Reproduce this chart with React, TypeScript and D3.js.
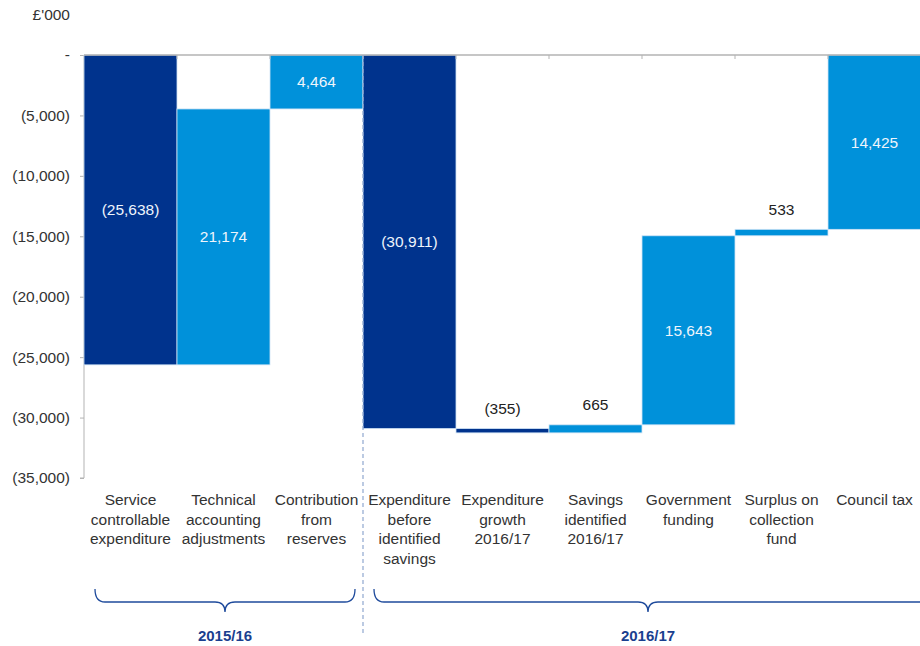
import React, { useEffect, useRef } from 'react';
import * as d3 from 'd3';

// Waterfall data (£'000)
const categories: string[][] = [
  ['Service', 'controllable', 'expenditure'],
  ['Technical', 'accounting', 'adjustments'],
  ['Contribution', 'from', 'reserves'],
  ['Expenditure', 'before', 'identified', 'savings'],
  ['Expenditure', 'growth', '2016/17'],
  ['Savings', 'identified', '2016/17'],
  ['Government', 'funding'],
  ['Surplus on', 'collection', 'fund'],
  ['Council tax'],
];
const values = [-25638, 21174, 4464, -30911, -355, 665, 15643, 533, 14425];
const yTicks = [0, -5000, -10000, -15000, -20000, -25000, -30000, -35000];
const periods = [
  { label: '2015/16', first: 0, last: 2 },
  { label: '2016/17', first: 3, last: 8 },
];

const DARK = '#00338D';
const LIGHT = '#0091DA';
const FONT = '"Liberation Sans", Arial, sans-serif';

const fmt = (v: number) => {
  if (v === 0) return '-';
  const s = d3.format(',')(Math.abs(v));
  return v < 0 ? `(${s})` : s;
};

const App: React.FC = () => {
  const svgRef = useRef<SVGSVGElement>(null);

  useEffect(() => {
    if (!svgRef.current) return;
    const width = 920;
    const height = 646;
    const svg = d3.select(svgRef.current);
    svg.selectAll('*').remove();
    svg.attr('width', width).attr('height', height);

    const x = d3.scaleBand<number>()
      .domain(values.map((_, i) => i))
      .range([84, 921])
      .padding(0);

    const y = d3.scaleLinear().domain([-35000, 0]).range([478, 55]);

    // Running totals
    let cum = 0;
    const bars = values.map((v, i) => {
      const start = cum;
      cum += v;
      return { i, v, start, end: cum };
    });

    // Y axis
    const yAxis = svg.append('g').attr('transform', 'translate(84,0)')
      .call(d3.axisLeft(y).tickValues(yTicks).tickFormat(d => fmt(+d)).tickSize(4).tickPadding(10));
    yAxis.select('.domain').attr('stroke', '#b3b3b3').attr('d', `M0,${y(0)}V${y(-35000)}H-4`);
    yAxis.selectAll('.tick line').attr('stroke', '#b3b3b3');
    yAxis.selectAll('.tick text')
      .attr('fill', '#333')
      .style('font-family', FONT)
      .style('font-size', '15.5px');

    // Bars
    svg.append('g').selectAll('rect')
      .data(bars)
      .enter()
      .append('rect')
      .attr('x', d => x(d.i)!)
      .attr('width', x.bandwidth())
      .attr('y', d => y(Math.max(d.start, d.end)))
      .attr('height', d => Math.abs(y(d.start) - y(d.end)))
      .attr('fill', d => (d.v < 0 ? DARK : LIGHT))
      .attr('stroke', '#cfe3f5')
      .attr('stroke-width', 0.8);

    // Top axis line with band ticks
    svg.append('line')
      .attr('x1', 84).attr('x2', 921)
      .attr('y1', y(0)).attr('y2', y(0))
      .attr('stroke', '#b3b3b3').attr('stroke-width', 1.5);
    svg.append('g').selectAll('line')
      .data(values.map((_, i) => i).slice(1))
      .enter()
      .append('line')
      .attr('x1', i => x(i)!).attr('x2', i => x(i)!)
      .attr('y1', y(0)).attr('y2', y(0) + 4)
      .attr('stroke', '#b3b3b3');

    // Value labels
    svg.append('g').selectAll('text')
      .data(bars)
      .enter()
      .append('text')
      .attr('x', d => x(d.i)! + x.bandwidth() / 2)
      .attr('y', d => {
        const top = y(Math.max(d.start, d.end));
        const bot = y(Math.min(d.start, d.end));
        return bot - top > 30 ? (top + bot) / 2 : top - 20;
      })
      .attr('dy', '0.35em')
      .attr('text-anchor', 'middle')
      .attr('fill', d => (Math.abs(y(d.start) - y(d.end)) > 30 ? '#eef5fc' : '#222'))
      .style('font-family', FONT)
      .style('font-size', '15.5px')
      .text(d => fmt(d.v));

    // Category labels
    const cat = svg.append('g');
    categories.forEach((lines, i) => {
      const t = cat.append('text')
        .attr('x', x(i)! + x.bandwidth() / 2)
        .attr('y', 505)
        .attr('text-anchor', 'middle')
        .attr('fill', '#333')
        .style('font-family', FONT)
        .style('font-size', '15.5px');
      lines.forEach((l, k) => {
        t.append('tspan')
          .attr('x', x(i)! + x.bandwidth() / 2)
          .attr('dy', k === 0 ? 0 : 19.5)
          .text(l);
      });
    });

    // Period divider
    svg.append('line')
      .attr('x1', x(3)!).attr('x2', x(3)!)
      .attr('y1', y(0)).attr('y2', 636)
      .attr('stroke', '#8fa7cf')
      .attr('stroke-width', 1.2)
      .attr('stroke-dasharray', '4,3');

    // Braces
    const brace = (x0: number, x1: number, xm: number) => {
      const top = 589;
      const base = 602;
      const tip = 612;
      const r = 10;
      return `M${x0},${top} Q${x0},${base} ${x0 + r},${base} L${xm - r},${base} Q${xm},${base} ${xm},${tip}`
        + ` Q${xm},${base} ${xm + r},${base} L${x1 - r},${base} Q${x1},${base} ${x1},${top}`;
    };
    periods.forEach(p => {
      const x0 = x(p.first)! + 11;
      const x1 = p.last === values.length - 1 ? 940 : x(p.last)! + x.bandwidth() - 8;
      const xm = p.last === values.length - 1 ? 648 : (x0 + x1) / 2;
      svg.append('path')
        .attr('d', brace(x0, x1, xm))
        .attr('fill', 'none')
        .attr('stroke', '#1f4b9c')
        .attr('stroke-width', 1.3);
      svg.append('text')
        .attr('x', xm)
        .attr('y', 641)
        .attr('text-anchor', 'middle')
        .attr('fill', '#1a3f8f')
        .style('font-family', FONT)
        .style('font-size', '15px')
        .style('font-weight', 'bold')
        .text(p.label);
    });

    // Unit label
    svg.append('text')
      .attr('x', 70)
      .attr('y', 20)
      .attr('text-anchor', 'end')
      .attr('fill', '#333')
      .style('font-family', FONT)
      .style('font-size', '15.5px')
      .text("£'000");
  }, []);

  return (
    <svg
      ref={svgRef}
      style={{ position: 'absolute', left: 0, top: 0, display: 'block', background: '#fff' }}
    />
  );
};

export default App;
